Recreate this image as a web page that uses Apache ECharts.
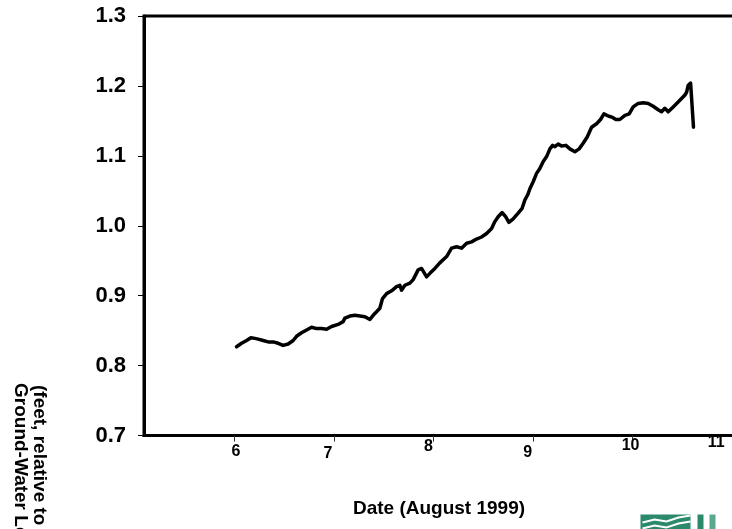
<!DOCTYPE html>
<html>
<head>
<meta charset="utf-8">
<script src="https://cdn.jsdelivr.net/npm/echarts@6/dist/echarts.min.js"></script>
<style>
  html, body { margin: 0; padding: 0; background: #ffffff; }
  #chart { width: 732px; height: 529px; }
</style>
</head>
<body>
<div id="chart"></div>
<script>
// Ground-water level record, August 1999 (day of month, feet)
const days = [
  6.020, 6.070, 6.121, 6.164, 6.204, 6.237, 6.287, 6.338, 6.388, 6.438,
  6.488, 6.539, 6.589, 6.623, 6.673, 6.724, 6.774, 6.824, 6.874, 6.925,
  6.975, 7.041, 7.091, 7.109, 7.159, 7.209, 7.259, 7.310, 7.360, 7.393,
  7.427, 7.460, 7.487, 7.528, 7.578, 7.628, 7.661, 7.678, 7.712, 7.762,
  7.795, 7.845, 7.879, 7.930, 7.963, 8.013, 8.063, 8.131, 8.181, 8.231,
  8.281, 8.332, 8.382, 8.432, 8.482, 8.533, 8.583, 8.616, 8.649, 8.689,
  8.724, 8.757, 8.800, 8.850, 8.890, 8.918, 8.945, 8.968, 9.001, 9.035,
  9.068, 9.102, 9.136, 9.169, 9.196, 9.219, 9.252, 9.286, 9.330, 9.370,
  9.420, 9.463, 9.503, 9.544, 9.588, 9.638, 9.678, 9.712, 9.755, 9.799,
  9.832, 9.872, 9.923, 9.966, 10.006, 10.056, 10.107, 10.157, 10.207, 10.257,
  10.291, 10.324, 10.358, 10.408, 10.458, 10.492, 10.526, 10.543, 10.559, 10.583,
  10.603, 10.612
];
const levels = [
  0.827, 0.832, 0.836, 0.840, 0.839, 0.838, 0.836, 0.834, 0.834, 0.832,
  0.829, 0.831, 0.836, 0.842, 0.847, 0.851, 0.855, 0.853, 0.853, 0.852,
  0.856, 0.859, 0.863, 0.868, 0.871, 0.872, 0.871, 0.870, 0.866, 0.872,
  0.877, 0.882, 0.896, 0.903, 0.907, 0.913, 0.915, 0.908, 0.915, 0.918,
  0.923, 0.937, 0.939, 0.927, 0.932, 0.939, 0.947, 0.956, 0.968, 0.970,
  0.968, 0.975, 0.977, 0.981, 0.984, 0.989, 0.996, 1.006, 1.013, 1.019,
  1.013, 1.005, 1.010, 1.018, 1.025, 1.037, 1.044, 1.053, 1.063, 1.075,
  1.082, 1.092, 1.099, 1.110, 1.115, 1.113, 1.117, 1.114, 1.115, 1.110,
  1.106, 1.110, 1.118, 1.127, 1.141, 1.146, 1.152, 1.160, 1.157, 1.155,
  1.152, 1.152, 1.158, 1.160, 1.170, 1.175, 1.176, 1.175, 1.171, 1.166,
  1.163, 1.168, 1.163, 1.170, 1.177, 1.182, 1.187, 1.191, 1.201, 1.204,
  1.204, 1.141
];
const xTicks = [6, 7, 8, 9, 10, 11];
const yTicks = [0.7, 0.8, 0.9, 1.0, 1.1, 1.2, 1.3];
const xTitle = 'Date (August 1999)';
const yTitleLine1 = 'Ground-Water Level';
const yTitleLine2 = '(feet, relative to arbitrary datum)';

const FONT = '"Liberation Sans", Arial, Helvetica, sans-serif';

// small hand-set nudges of the day labels: [top, left, right] padding
const dayLabelPad = {
  6: [21, 3, 0],
  7: [25, 0, 12],
  8: [11, 0, 10],
  9: [23, 0, 11],
  10: [9, 0, 4],
  11: [3, 0, 32]
};
const dayRich = {};
xTicks.forEach(function (d) {
  const p = dayLabelPad[d];
  dayRich['d' + d] = {
    fontFamily: FONT, fontWeight: 'bold', fontSize: 16, color: '#000',
    lineHeight: 16, padding: [p[0], p[2], 0, p[1]]
  };
});

const chart = echarts.init(document.getElementById('chart'), null, { renderer: 'canvas' });

chart.setOption({
  animation: false,
  backgroundColor: '#ffffff',
  grid: {
    left: 144, top: 16, width: 608, bottom: 93.4,
    containLabel: false,
    outerBoundsMode: 'none',
    show: true, borderColor: '#000', borderWidth: 3, backgroundColor: 'transparent'
  },
  xAxis: {
    type: 'value',
    min: 5.09, max: 11.2,
    name: xTitle,
    nameLocation: 'middle',
    nameGap: 64,
    nameTextStyle: {
      fontFamily: FONT, fontWeight: 'bold', fontSize: 19, color: '#000',
      padding: [0, 18, 0, 0]
    },
    axisLine: { show: true, onZero: false, lineStyle: { color: '#000', width: 3 } },
    axisTick: { show: true, length: 6, customValues: xTicks, lineStyle: { color: '#333', width: 1 } },
    axisLabel: {
      customValues: xTicks,
      margin: -3,
      verticalAlign: 'top',
      formatter: function (v) { return '{d' + v + '|' + v + '}'; },
      rich: dayRich
    },
    splitLine: { show: false }
  },
  yAxis: {
    type: 'value',
    min: 0.7, max: 1.3,
    axisLine: { show: true, onZero: false, lineStyle: { color: '#000', width: 3 } },
    axisTick: { show: true, length: 6, customValues: yTicks, lineStyle: { color: '#000', width: 1 } },
    axisLabel: {
      customValues: yTicks,
      margin: 18,
      fontFamily: FONT, fontWeight: 'bold', fontSize: 22, color: '#000',
      formatter: function (v) { return v.toFixed(1); }
    },
    splitLine: { show: false }
  },
  series: [{
    type: 'line',
    data: days.map(function (d, i) { return [d, levels[i]]; }),
    showSymbol: false,
    symbol: 'none',
    smooth: false,
    clip: true,
    lineStyle: { color: '#000', width: 3.5, join: 'round', cap: 'round' }
  }],
  graphic: [
    {
      type: 'text', x: 20, y: 383, rotation: -Math.PI / 2,
      style: {
        text: yTitleLine1, fill: '#000', font: 'bold 19px ' + FONT,
        textAlign: 'left', textVerticalAlign: 'middle'
      }
    },
    {
      type: 'text', x: 39, y: 385, rotation: -Math.PI / 2,
      style: {
        text: yTitleLine2, fill: '#000', font: 'bold 19px ' + FONT,
        textAlign: 'left', textVerticalAlign: 'middle'
      }
    },
    // agency logo in the lower right corner
    {
      type: 'group', left: 640, top: 513,
      children: [
        { type: 'rect', shape: { x: 0, y: 0, width: 50, height: 18 }, style: { fill: '#2b8a6c' } },
        { type: 'polyline', shape: { points: [[2, 8], [14, 5], [26, 7], [38, 3], [50, 1]] }, style: { stroke: '#ffffff', lineWidth: 2, fill: null } },
        { type: 'polyline', shape: { points: [[2, 14], [14, 11], [26, 13], [38, 9], [50, 7]] }, style: { stroke: '#ffffff', lineWidth: 2, fill: null } },
        { type: 'rect', shape: { x: 57, y: 0, width: 6, height: 18 }, style: { fill: '#2b8a6c' } },
        { type: 'rect', shape: { x: 69, y: 0, width: 6, height: 18 }, style: { fill: '#5aa88e' } }
      ]
    }
  ]
});
</script>
</body>
</html>
